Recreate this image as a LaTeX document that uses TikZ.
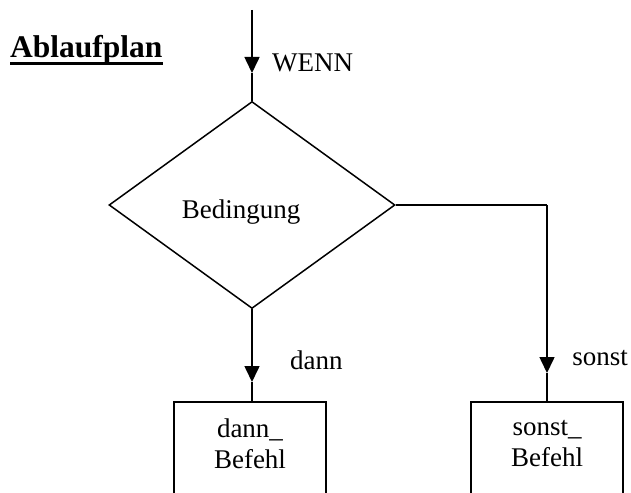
\documentclass[tikz,border=0pt]{standalone}
\usepackage{fontspec}
\setmainfont{Liberation Serif}
\usetikzlibrary{shapes.geometric,arrows.meta}
\begin{document}
\begin{tikzpicture}[x=1pt,y=-1pt,
  line/.style={line width=1.6pt},
  arr/.style={line width=1.6pt,-{Triangle[length=16pt,width=15pt]}},
  txt/.style={font=\fontsize{27}{31}\selectfont,inner sep=0pt},
  cond/.style={diamond,draw,line width=1.5pt,minimum width=286pt,minimum height=207pt,inner sep=0pt},
  cmdbox/.style={draw,line width=1.6pt,minimum width=152pt,minimum height=130pt,inner sep=0pt,anchor=north}]
\useasboundingbox (0,0) rectangle (631,492);
\clip (0,0) rectangle (631,492);
% title
\node[anchor=base west,inner sep=0pt,font=\fontsize{31.5}{35}\selectfont\bfseries] (title) at (10,58) {Ablaufplan};
\draw[line width=3pt] ([yshift=-5.5pt]title.base west) -- ([yshift=-5.5pt]title.base east);
% start
\coordinate (start) at (252,10);
\coordinate (wmid) at (252,73);
\node[cond] (cond) at (252,205) {};
\node[txt] (condtxt) at (241,212) {Bedingung};
\node[txt,anchor=west] (wenn) at (272,63) {WENN};
% boxes
\node[cmdbox] (dbox) at (250,401) {};
\node[cmdbox] (sbox) at (547,401) {};
\node[txt,align=center] (dtxt) at (250,444) {dann\_\\Befehl};
\node[txt,align=center] (stxt) at (547,444) {sonst\_\\Befehl};
% connectors
\draw[arr] (start) -- (wmid);
\draw[line] (wmid) -- (cond.north);
\coordinate (dmid) at (cond.south |- 0,382);
\draw[arr] (cond.south) -- (dmid);
\draw[line] (dmid) -- (cond.south |- dbox.north);
\coordinate (corner) at (sbox.north |- cond.east);
\coordinate (smid) at (sbox.north |- 0,373);
\draw[line] (cond.east) -- (corner);
\draw[arr] (corner) -- (smid);
\draw[line] (smid) -- (sbox.north);
\node[txt,anchor=west] (dann) at (290,360) {dann};
\node[txt,anchor=east] (sonst) at (628,358) {sonst};
\end{tikzpicture}
\end{document}
